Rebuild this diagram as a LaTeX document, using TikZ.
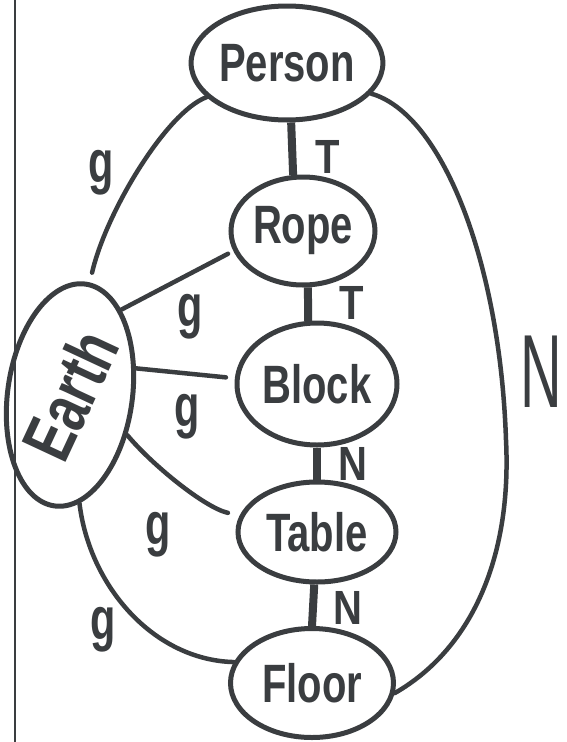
\documentclass[tikz,border=0pt]{standalone}
\usepackage{fontspec}
\setmainfont{Liberation Sans}
\usetikzlibrary{shapes.geometric}
\definecolor{ink}{RGB}{58,61,64}
% stretch a word upright, like tall marker lettering
\newcommand{\tallword}[1]{\scalebox{1}[1.35]{#1}}
\begin{document}
\begin{tikzpicture}[x=1pt,y=-1pt,
  thing/.style={ellipse, draw=ink, line width=5pt, inner sep=0pt, text=ink,
    font=\fontsize{40}{40}\selectfont\bfseries},
  link/.style={draw=ink, line width=4.5pt, line cap=round},
  bond/.style={draw=ink, line width=8pt},
  lbl/.style={text=ink, inner sep=0pt, font=\fontsize{40}{40}\selectfont\bfseries, yscale=1.2},
  glbl/.style={text=ink, inner sep=0pt, font=\fontsize{46}{46}\selectfont\bfseries, xscale=0.9, yscale=1.3}]
\useasboundingbox (0,0) rectangle (566,742);
\fill[white] (0,0) rectangle (566,742);
% margin rule of the sheet
\draw[ink, line width=1.5pt] (15,0) -- (15,742);

% objects
\node[thing, minimum width=186pt, minimum height=114pt] (person) at (287,63) {\tallword{Person}};
\node[thing, minimum width=144pt, minimum height=108pt] (rope) at (303,231) {\tallword{Rope}};
\node[thing, minimum width=160pt, minimum height=122pt] (block) at (317,384) {\tallword{Block}};
\node[thing, minimum width=158pt, minimum height=100pt] (table) at (317,532) {\tallword{Table}};
\node[thing, minimum width=163pt, minimum height=109pt] (floor) at (312,683) {\tallword{Floor}};
\node[thing, minimum width=120pt, minimum height=224pt, rotate=-8,
  font=\fontsize{52}{52}\selectfont\bfseries] (earth) at (70,395) {\rotatebox{73}{\tallword{Earth}}};

% contact forces along the stack
\draw[bond] (person.-86) -- (rope.100);
\draw[bond] (rope.-85) -- (block.98);
\draw[bond] (block.-90) -- (table.90);
\draw[bond] (table.-93) -- (floor.90);

% gravity from the Earth
\draw[link, shorten >=10pt] (person.203) .. controls +(-40,15) and +(16,-70) .. (earth.88);
\draw[link, shorten <=6pt] (rope.196) -- (earth.67);
\draw[link, shorten <=9pt] (block.176) -- (earth.30);
\draw[link, shorten <=12pt] (table.168) .. controls +(-35,-8) and +(25,30) .. (earth.-27);
\draw[link] (earth.-77) .. controls +(10,83) and +(-80,-2) .. (floor.165);

% normal force from the floor up to the person
\coordinate (rbend) at (506,440);
\draw[link] (person.-20) .. controls +(70,20) and (500,260) .. (rbend)
  .. controls (512,560) and (470,650) .. (floor.-7);

% force labels
\node[lbl] (t1) at (328,157) {T};
\node[lbl] (t2) at (352,303) {T};
\node[lbl] (n1) at (353,464) {N};
\node[lbl] (n2) at (348,608) {N};
\node[glbl] (g1) at (101,173) {g};
\node[glbl] (g2) at (190,317) {g};
\node[glbl] (g3) at (187,417) {g};
\node[glbl] (g4) at (158,535) {g};
\node[glbl] (g5) at (103,630) {g};
\node[text=ink, inner sep=0pt, font=\fontsize{80}{80}\selectfont, xscale=0.72, yscale=1.3] (nbig) at (541,372) {N};
\end{tikzpicture}
\end{document}
